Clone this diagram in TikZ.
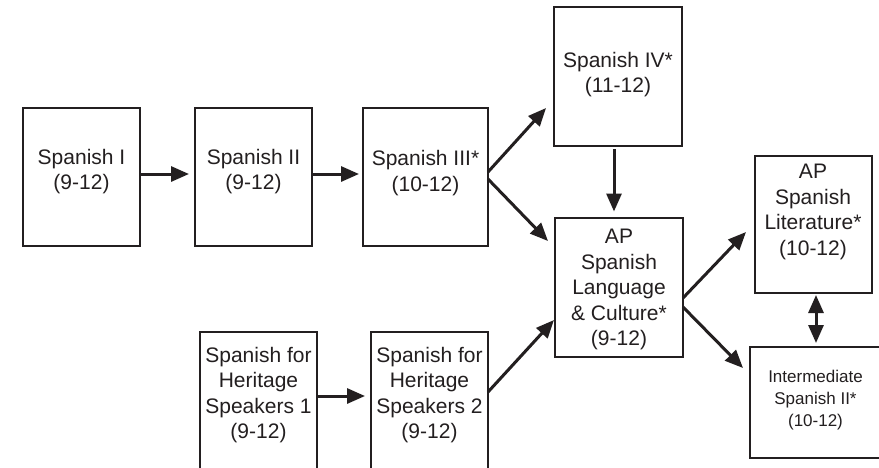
\documentclass[tikz,border=0pt]{standalone}
\usepackage{fontspec}
\setmainfont{Liberation Sans}
\usetikzlibrary{arrows.meta}
\definecolor{ink}{HTML}{231F20}
\begin{document}
\begin{tikzpicture}[x=1pt,y=-1pt,
  box/.style={draw=ink, line width=2pt, inner sep=0pt, outer sep=0pt, minimum height=138pt},
  txt/.style={align=center, inner sep=0pt, text=ink, font=\fontsize{21}{25.5}\selectfont},
  smalltxt/.style={align=center, inner sep=0pt, text=ink, font=\fontsize{17}{22}\selectfont},
  conn/.style={draw=ink, line width=3pt, -{Triangle[length=18pt,width=15pt]}},
  dconn/.style={draw=ink, line width=3pt, {Triangle[length=18pt,width=15pt]}-{Triangle[length=18pt,width=15pt]}}]
\useasboundingbox (0,0) rectangle (879,467);
\clip (0,0) rectangle (879,467);
\fill[white] (0,0) rectangle (879,467);
% boxes
\node[box, minimum width=117pt] (s1) at (81.5,177) {};
\node[box, minimum width=117pt] (s2) at (253.5,177) {};
\node[box, minimum width=125pt] (s3) at (425.5,177) {};
\node[box, minimum width=128pt, minimum height=139pt] (s4) at (618,76.5) {};
\node[box, minimum width=128pt, minimum height=139pt] (ap) at (619,287) {};
\node[box, minimum width=117pt, minimum height=137pt] (lit) at (813,224.5) {};
\node[box, minimum width=140pt, minimum height=111pt] (int) at (820,402.5) {};
\node[box, minimum width=117pt] (h1) at (258.5,401) {};
\node[box, minimum width=117pt] (h2) at (429.5,401) {};
% texts
\node[txt] (t1) at (81.5,171.5) {Spanish I\\(9-12)};
\node[txt] (t2) at (253.5,171.5) {Spanish II\\(9-12)};
\node[txt] (t3) at (425.5,173) {Spanish III*\\(10-12)};
\node[txt] (t4) at (618,74.5) {Spanish IV*\\(11-12)};
\node[txt] (tap) at (619,289.5) {AP\\Spanish\\Language\\\& Culture*\\(9-12)};
\node[txt] (tlit) at (813,212) {AP\\Spanish\\Literature*\\(10-12)};
\node[smalltxt] (tint) at (815.5,400) {Intermediate\\Spanish II*\\(10-12)};
\node[txt] (th1) at (258.5,395) {Spanish for\\Heritage\\Speakers 1\\(9-12)};
\node[txt] (th2) at (429.5,395) {Spanish for\\Heritage\\Speakers 2\\(9-12)};
% connectors
\draw[conn, shorten >=6pt] ([yshift=3pt]s1.east) -- ([yshift=3pt]s2.west);
\draw[conn, shorten >=4pt] ([yshift=3pt]s2.east) -- ([yshift=3pt]s3.west);
\draw[conn] ([yshift=5pt]s3.east) -- ([xshift=-8pt,yshift=38pt]s4.south west);
\draw[conn] ([yshift=-2pt]s3.east) -- ([xshift=-7pt,yshift=-23.5pt]ap.north west);
\draw[conn] ([xshift=-4pt,yshift=-3pt]s4.south) -- ([xshift=-5pt,yshift=6pt]ap.north);
\draw[conn] ([yshift=-64pt]h1.north east) -- ([xshift=-6pt,yshift=-64pt]h2.north west);
\draw[conn] ([yshift=-60pt]h2.north east) -- ([xshift=-1pt,yshift=36.5pt]ap.south west);
\draw[conn] ([yshift=-11pt]ap.east) -- ([xshift=-8.5pt,yshift=61pt]lit.south west);
\draw[conn] ([yshift=-20pt]ap.east) -- ([xshift=-7pt,yshift=-21pt]int.north west);
\draw[dconn] ([xshift=3pt,yshift=-2pt]lit.south) -- ([xshift=66pt,yshift=4pt]int.north west);
\end{tikzpicture}
\end{document}
